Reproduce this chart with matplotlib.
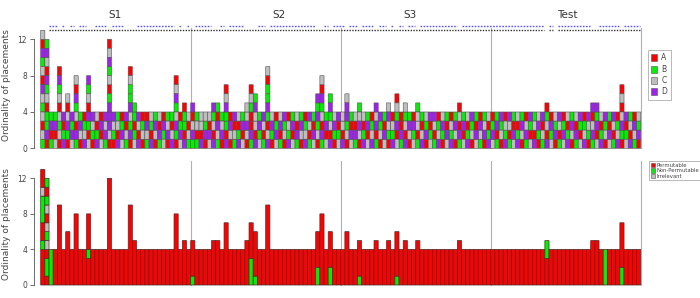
import matplotlib.pyplot as plt
from matplotlib.patches import Patch

# section names and where their titles sit (pixels)
sections = ["S1", "S2", "S3", "Test"]
title_px = [115, 279, 410, 567]

# placement cells per bar, bottom -> top (A/B/C/D)
s1_cells = ["BCACBCDACBDAC", "ADBBACBDACDB", "BADB", "CADB", "ACBCACBDA", "DBAD",
            "ABDCAC", "CDBD", "BDACBDAC", "ACDB", "DCBA", "CABDACBD",
            "ABCD", "DBAC", "CADA", "BDCD", "ACDDDBACBDCA", "ABCD",
            "DACB", "CDBA", "BCAD", "ADBCDBBCA", "CBABB", "DACD",
            "ACBA", "BCDA", "DABC", "ACDB", "BDAC", "CBDA",
            "ADCB", "DCAB", "ABDCBDCA", "CDBA", "DABBA", "BCAC"]
s2_cells = ["BDCAD", "BACB", "DACC", "ADBC", "CDAC", "DACBD",
            "BCDAB", "ADCB", "DABBDCA", "ACDA", "BCAD", "DBAC",
            "CADB", "ACDCC", "BDAABCA", "DACCDB", "CBDB", "BACD",
            "DCABDBBAC", "ABDC", "CDBA", "BADC", "ACBD", "DBCA",
            "CADB", "BDAC", "ACDB", "DCBA", "BACD", "CDAB",
            "ACBDBD", "BDACBDAC", "CADB", "DACBDB", "ABDC", "CBAD"]
s3_cells = ["DACC", "ACBDDC", "CDAB", "BDAC", "ACDCB", "DBAC",
            "CADB", "DCBA", "BADCD", "ACBD", "CDAB", "ABCDC",
            "DBCA", "CADBCA", "BDAA", "DACBC", "ACDB", "CBDA",
            "BACCB", "DCAB", "ADBC", "CBAD", "BACD", "DCBA",
            "ABDC", "CDAB", "DBCA", "ACDB", "BDACA", "CADB",
            "DBAC", "ACBD", "CDAB", "BCDA", "ADCB", "DBAC"]
s4_cells = ["CDBA", "BADB", "ACBD", "DBCA", "BACD", "CDAB",
            "DBAC", "ACDB", "BDCA", "CABD", "DACB", "ABDC",
            "BCAD", "DACBA", "CBDA", "ADBC", "BACD", "CDBA",
            "DBAC", "ACDB", "BDAC", "CABD", "DCBA", "ABCD",
            "BDCAD", "CADBD", "DBAC", "ACBD", "CDAB", "BACD",
            "DCBA", "ABDCACA", "CBAD", "DACB", "BCDA", "ADBC"]

# marker rows above the bars (1 = marked)
blue_marks = ["001101010110011101110001111111110101",
              "011110010111100011011111111111001011",
              "101101110110101011011111111101111111",
              "111111111111101011111111001111101111"]
black_marks = ["001111111111111111111111111111111111",
               "111111111111111111111111111111111111",
               "111111111111111111111111111111111111",
               "111111111111101011111111111111111111"]

# lower panel: bars that are not fully permutable (P/N/I, bottom -> top)
perm_special = {0: "PPPPNPPNNNIPP", 1: "PNNPINIPINPN", 2: "NNNN", 11: "PPPNPPPP",
                36: "NPPPP", 50: "NNNPPPP", 51: "NPPPPP", 66: "NNPPPP", 69: "NNPPPP",
                76: "NPPPP", 85: "NPPPPP",
                121: "PPPNN", 135: "NNNN", 139: "NNPPPPP"}

cell_colors = {"A": "#FF0000", "B": "#00F000", "C": "#BEBEBE", "D": "#A020F0"}
perm_colors = {"P": "#FF0000", "N": "#00F000", "I": "#BEBEBE"}

cells = s1_cells + s2_cells + s3_cells + s4_cells
blue = "".join(blue_marks)
black = "".join(black_marks)
n = len(cells)
perm = [perm_special.get(i, "P" * len(c)) for i, c in enumerate(cells)]

W, H = 700, 298
fig = plt.figure(figsize=(7, 2.98), dpi=100)

bar_px = 600.0 / n
x0 = -(40.7 - 34) / bar_px
x1 = x0 + (645 - 34) / bar_px


def add_axes(top_px, bot_px):
    return fig.add_axes([34 / W, 1 - bot_px / H, (645 - 34) / W, (bot_px - top_px) / H])


def style_axes(ax):
    for s in ["top", "right", "bottom"]:
        ax.spines[s].set_visible(False)
    ax.spines["left"].set_bounds(0, 12)
    ax.spines["left"].set_color("#555555")
    ax.spines["left"].set_linewidth(0.6)
    ax.set_xticks([])
    ax.set_yticks([0, 4, 8, 12])
    ax.tick_params(axis="y", length=3, width=0.6, color="#555555",
                   labelsize=5.5, labelcolor="#444444", pad=2)
    ax.set_xlim(x0, x1)
    ax.patch.set_alpha(0)


# ---- top panel: individual placements ----
ax1 = add_axes(22, 150)
ax1.set_ylim(-(150 - 148.3) / 9.08, (148.3 - 22) / 9.08)
style_axes(ax1)

for key, col in cell_colors.items():
    xs, bs = [], []
    for i, c in enumerate(cells):
        for k, ch in enumerate(c):
            if ch == key:
                xs.append(i)
                bs.append(k)
    bars = ax1.bar(xs, 1, bottom=bs, width=1, align="edge", color=col,
                   edgecolor="#505050", linewidth=0.4)
    for r in bars:
        r.set_snap(False)


def draw_runs(ax, marks, y, color, ls):
    i = 0
    while i < len(marks):
        if marks[i] == "1":
            j = i
            while j < len(marks) and marks[j] == "1":
                j += 1
            ax.plot([i + 0.1, j - 0.1], [y, y], color=color, lw=1.0, ls=ls,
                    solid_capstyle="butt")
            i = j
        else:
            i += 1


draw_runs(ax1, blue, 13.47, "#5858F0", (0, (1.2, 1.0)))
draw_runs(ax1, black, 13.03, "#333333", (0, (1, 1)))

for b in [36, 72, 108, 144]:
    ax1.plot([b, b], [0, 13.25], color="#B0B0B0", lw=0.8, zorder=0.5)

for name, px in zip(sections, title_px):
    fig.text(px / W, 1 - 15 / H, name, ha="center", va="center",
             fontsize=7.5, color="#333333")

leg1 = ax1.legend(handles=[Patch(facecolor=cell_colors[k], edgecolor="#555555",
                                 linewidth=0.4, label=k) for k in "ABCD"],
                  loc="upper left", bbox_to_anchor=(648 / W, 1 - 50 / H),
                  bbox_transform=fig.transFigure, fontsize=5.5, frameon=True,
                  fancybox=False, edgecolor="#999999", handlelength=0.7,
                  handleheight=1.0, handletextpad=0.6, labelspacing=0.3,
                  borderpad=0.45, borderaxespad=0)
leg1.get_frame().set_linewidth(0.6)
for t in leg1.get_texts():
    t.set_color("#444444")

# ---- bottom panel: permutability ----
ax2 = add_axes(158, 287)
ax2.set_ylim(-(287 - 285) / 8.89, (285 - 158) / 8.89)
style_axes(ax2)

for i, p in enumerate(perm):
    k = 0
    while k < len(p):
        j = k
        while j < len(p) and p[j] == p[k]:
            j += 1
        bars = ax2.bar(i, j - k, bottom=k, width=1, align="edge", color=perm_colors[p[k]],
                       edgecolor="#4a2a2a", linewidth=0.5)
        bars[0].set_snap(False)
        k = j

for b in [36, 72, 108, 144]:
    ax2.plot([b, b], [0, 14.0], color="#B0B0B0", lw=0.8, zorder=0.5)

leg2 = ax2.legend(handles=[Patch(facecolor=perm_colors[k], edgecolor="#555555",
                                 linewidth=0.4, label=lab)
                           for k, lab in zip("PNI", ["Permutable", "Non-Permutable", "Irrelevant"])],
                  loc="upper left", bbox_to_anchor=(649 / W, 1 - 161 / H),
                  bbox_transform=fig.transFigure, fontsize=3.8, frameon=True,
                  fancybox=False, edgecolor="#999999", handlelength=0.8,
                  handleheight=0.9, handletextpad=0.25, labelspacing=0.1,
                  borderpad=0.3, borderaxespad=0)
leg2.get_frame().set_linewidth(0.6)
for t in leg2.get_texts():
    t.set_color("#444444")

for cy in [85, 224]:
    fig.text(7 / W, 1 - cy / H, "Ordinality of placements", rotation=90,
             ha="center", va="center", fontsize=6.5, color="#444444")

fig.savefig("out.png", dpi=100)
